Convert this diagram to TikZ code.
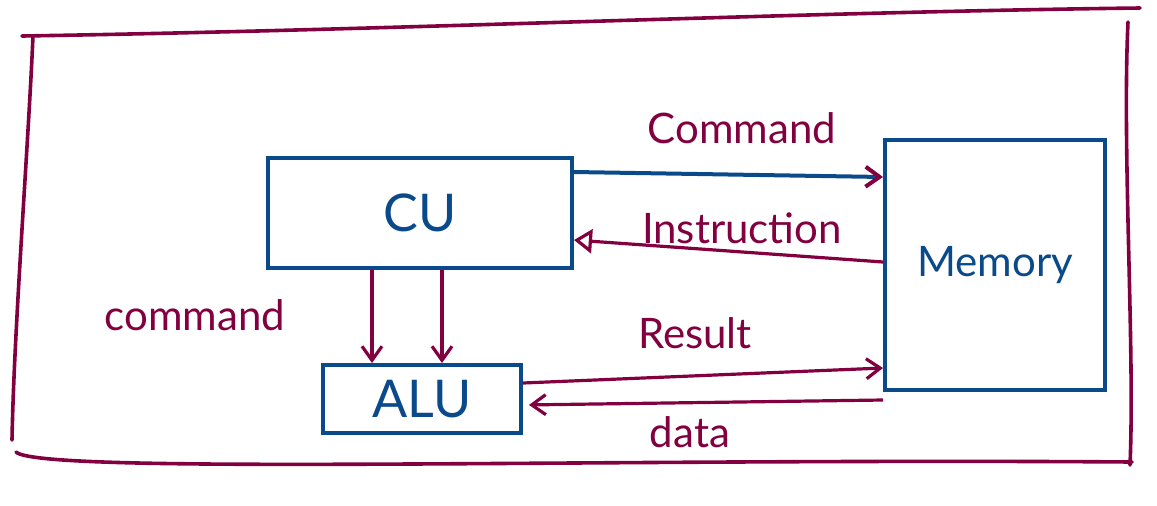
\documentclass[tikz,border=0pt]{standalone}
\usepackage{fontspec}
\setmainfont{Lato}
\usetikzlibrary{arrows.meta}
\definecolor{ink}{HTML}{0B4A8A}
\definecolor{wine}{HTML}{82003F}
\tikzset{
  unitbox/.style={draw=ink, line width=2pt, font=\fontsize{26}{30}\selectfont, text=ink},
  lbl/.style={text=wine, font=\fontsize{21}{25}\selectfont},
  flow/.style={draw=wine, line width=1.6pt},
  barb/.style={-{Straight Barb[length=7pt,width=10pt,color=wine]}},
  tri/.style={-{Triangle[open,length=9pt,width=12pt,color=wine]}},
  frame/.style={draw=wine, line width=1.8pt, line cap=round},
}
\begin{document}
\begin{tikzpicture}[x=0.5pt,y=-0.5pt]
\useasboundingbox (0,0) rectangle (1157,505);
% outer frame
\draw[frame] (22,36) .. controls (400,30) and (800,12) .. (1140,8);
\draw[frame] (1128,22) .. controls (1122,150) and (1135,350) .. (1130,465);
\draw[frame] (33,36) .. controls (28,150) and (14,330) .. (12,440);
\draw[frame] (16,452) .. controls (40,475) and (600,458) .. (1132,462);

% units
\node[unitbox, minimum width=152pt, minimum height=55pt] (cu) at (420,213) {CU};
\node[unitbox, minimum width=110pt, minimum height=125pt, font=\fontsize{21}{25}\selectfont] (mem) at (995,265) {Memory};
\node[unitbox, minimum width=99pt, minimum height=34pt] (alu) at (422,399) {ALU};

% CU -> Memory
\draw[draw=ink, line width=2pt, barb] ([yshift=20.5pt]cu.east) -- ([yshift=44pt]mem.west);
\node[lbl] (lcmd) at (742,128) {Command};
% Memory -> CU
\draw[flow, tri] ([yshift=1.5pt]mem.west) -- ([yshift=-13.5pt]cu.east);
\node[lbl] (linstr) at (742,228) {Instruction};

% CU -> ALU
\draw[flow, barb] ([xshift=-24pt]cu.south) -- ([xshift=-24pt]cu.south |- alu.north);
\draw[flow, barb] ([xshift=11pt]cu.south) -- ([xshift=11pt]cu.south |- alu.north);
\node[lbl] (lcmd2) at (195,315) {command};

% ALU -> Memory
\draw[flow, barb] ([yshift=8pt]alu.east) -- ([yshift=-51.5pt]mem.west);
\node[lbl] (lres) at (695,333) {Result};
% Memory -> ALU
\draw[flow, barb, shorten >=3pt] ([yshift=-67.5pt]mem.west) -- ([yshift=-3pt]alu.east);
\node[lbl] (ldata) at (690,432) {data};
\end{tikzpicture}
\end{document}
